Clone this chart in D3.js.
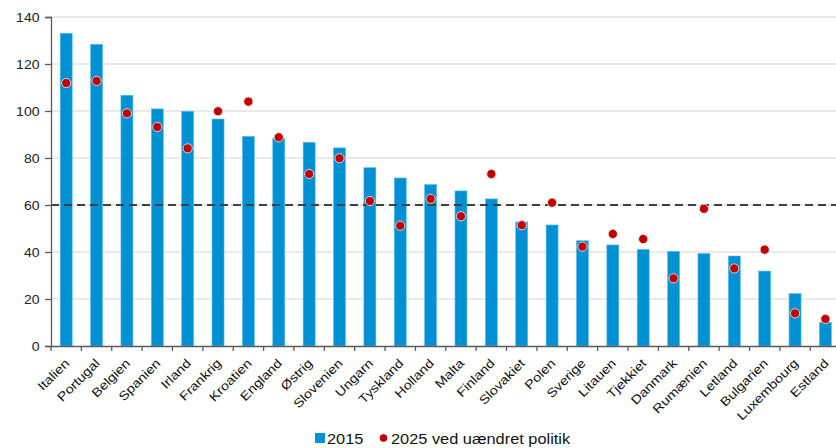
<!DOCTYPE html>
<html>
<head>
<meta charset="utf-8">
<script src="https://cdn.jsdelivr.net/npm/d3@7"></script>
<style>
  html, body { margin: 0; padding: 0; background: #fff; }
  svg { display: block; font-family: "Liberation Sans", Arial, sans-serif; }
</style>
</head>
<body>
<svg id="chart" width="836" height="448"></svg>
<script>
// Gæld i pct. af BNP, EU-lande
const countries = ["Italien", "Portugal", "Belgien", "Spanien", "Irland", "Frankrig", "Kroatien",
  "England", "Østrig", "Slovenien", "Ungarn", "Tyskland", "Holland", "Malta", "Finland",
  "Slovakiet", "Polen", "Sverige", "Litauen", "Tjekkiet", "Danmark", "Rumænien", "Letland",
  "Bulgarien", "Luxembourg", "Estland"];
const values2015 = [133.1, 128.4, 106.7, 100.9, 99.9, 96.6, 89.2, 88.4, 86.7, 84.3, 75.9, 71.5,
  68.7, 66.0, 62.6, 52.8, 51.5, 44.8, 43.0, 41.1, 40.3, 39.4, 38.3, 31.9, 22.3, 10.1];
const values2025 = [111.9, 112.8, 99.0, 93.2, 84.1, 99.9, 104.0, 88.8, 73.2, 79.9, 61.7, 51.2,
  62.6, 55.2, 73.2, 51.4, 61.0, 42.3, 47.7, 45.5, 28.8, 58.4, 33.0, 41.0, 13.9, 11.5];
const yTicks = [0, 20, 40, 60, 80, 100, 120, 140];
const limit = 60;
const legendLabels = ["2015", "2025 ved uændret politik"];

const svg = d3.select("#chart");
const plotLeft = 51, plotTop = 17, plotBottom = 346, plotRight = 840.6;
const stretch = 1.17;      // text is drawn slightly wide
const fontFamily = "Liberation Sans, Arial, sans-serif";

const x = d3.scaleBand().domain(countries).range([plotLeft, plotRight]).paddingInner(0).paddingOuter(0);
const y = d3.scaleLinear().domain([0, 140]).range([plotBottom, plotTop]);

const barW = 12;
const blue = "#0091d5";
const red = "#c00000";
const axisColor = "#5a5a5a";

// gridlines
svg.append("g").selectAll("line").data(yTicks.filter(d => d > 0)).join("line")
  .attr("x1", plotLeft).attr("x2", 836)
  .attr("y1", d => y(d)).attr("y2", d => y(d))
  .attr("stroke", "#e3e3e3").attr("stroke-width", 1.5);

// bars
svg.append("g").selectAll("rect").data(countries).join("rect")
  .attr("x", d => x(d) + x.bandwidth() / 2 - barW / 2)
  .attr("width", barW)
  .attr("y", (d, i) => y(values2015[i]))
  .attr("height", (d, i) => y(0) - y(values2015[i]))
  .attr("fill", blue)
  .attr("stroke", "#5cc0ec").attr("stroke-width", 0.6);

// 60 pct. reference line
svg.append("line")
  .attr("x1", plotLeft).attr("x2", 836)
  .attr("y1", y(limit)).attr("y2", y(limit))
  .attr("stroke", "#404040").attr("stroke-width", 2)
  .attr("stroke-dasharray", "8,5");

// 2025 markers
svg.append("g").selectAll("circle").data(countries).join("circle")
  .attr("cx", d => x(d) + x.bandwidth() / 2)
  .attr("cy", (d, i) => y(values2025[i]))
  .attr("r", 4.6)
  .attr("fill", red)
  .attr("stroke", "#e6d6d6").attr("stroke-width", 1);

// y axis
const yAxis = svg.append("g").attr("transform", `translate(${plotLeft},0)`)
  .call(d3.axisLeft(y).tickValues(yTicks).tickSize(6).tickPadding(5));
yAxis.select(".domain").attr("stroke", axisColor).attr("stroke-width", 1.3);
yAxis.selectAll(".tick line").attr("stroke", axisColor).attr("stroke-width", 1.3);
yAxis.selectAll(".tick text")
  .attr("font-size", 12).attr("fill", "#222").attr("font-family", fontFamily)
  .attr("x", null).attr("dy", "0.36em")
  .attr("text-anchor", "end")
  .attr("transform", `translate(-11.5,0) scale(${stretch},1)`);

// x axis
const xAxis = svg.append("g").attr("transform", `translate(0,${plotBottom})`)
  .call(d3.axisBottom(x).tickSize(0).tickPadding(0));
xAxis.select(".domain").attr("stroke", axisColor).attr("stroke-width", 1.3);
xAxis.selectAll(".tick line").remove();
// tick marks at band boundaries
xAxis.append("g").selectAll("line").data(countries).join("line")
  .attr("x1", d => x(d)).attr("x2", d => x(d))
  .attr("y1", 0).attr("y2", 5)
  .attr("stroke", axisColor).attr("stroke-width", 1.3);
xAxis.selectAll(".tick text")
  .attr("font-size", 12.4).attr("fill", "#111").attr("font-family", fontFamily)
  .attr("text-anchor", "end")
  .attr("y", null).attr("dy", null)
  .attr("transform", `translate(4,18) rotate(-45) scale(${stretch},1)`);

// legend
const lg = svg.append("g").attr("transform", "translate(315,444)");
lg.append("rect").attr("x", 0).attr("y", -11).attr("width", 10).attr("height", 10).attr("fill", blue);
lg.append("text").attr("transform", `translate(12,0) scale(${stretch},1)`)
  .attr("font-size", 14).attr("font-family", fontFamily).attr("fill", "#111").text(legendLabels[0]);
lg.append("circle").attr("cx", 68.5).attr("cy", -6).attr("r", 3.8).attr("fill", red);
lg.append("text").attr("transform", `translate(76,0) scale(${stretch},1)`)
  .attr("font-size", 14).attr("font-family", fontFamily).attr("fill", "#111").text(legendLabels[1]);
</script>
</body>
</html>
